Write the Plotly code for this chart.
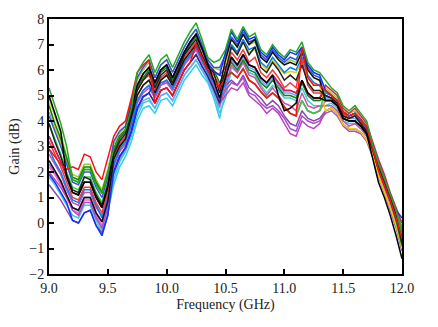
import plotly.graph_objects as go

freq = [round(9.0 + 0.05 * i, 2) for i in range(61)]

green = [5.3, 4.6, 3.9, 3.0,
         1.7, 1.6, 2.1, 2.1, 1.5, 1.15, 1.95, 2.9, 3.4, 3.65, 4.5,
         5.9, 6.3, 6.6, 5.9, 6.4, 6.6, 6.1, 6.6, 7.1, 7.5, 7.85, 7.2, 6.5, 6.3, 6.4, 6.8,
         7.6, 7.2, 7.7, 7.3, 7.45, 6.8, 6.6, 7.0, 6.7, 6.5, 6.8, 6.7, 7.1, 6.3, 6.0, 5.9,
         5.6, 5.3, 5.1, 4.6, 4.4, 4.6, 4.3, 4.0,
         3.1, 2.35, 1.75, 1.1, 0.5, -0.4]

red = [2.9, 2.6, 2.3, 2.1,
       2.2, 2.1, 2.7, 2.6, 2.0, 1.7, 2.5, 3.4, 3.8, 4.0, 4.9,
       5.9, 6.2, 6.4,
       4.7, 5.2, 5.3, 5.0, 5.5, 6.0, 6.3, 7.0, 6.5, 6.0, 5.6, 5.3, 5.7,
       5.9, 5.7, 6.05, 5.6, 5.45, 5.15, 4.9, 5.1, 4.9, 4.55, 4.3, 4.2,
       6.9, 5.7, 5.4, 5.4, 5.2, 5.0, 4.8, 4.35, 4.2, 4.3, 4.05, 3.75,
       2.9, 2.1, 1.5, 0.9, 0.2, -0.6]

black1 = [5.0, 4.3, 3.6,
          1.8, 1.2, 1.1, 1.6, 1.6, 1.0, 0.6, 1.4,
          2.9, 3.4, 3.65, 4.5, 5.4, 5.85, 6.1, 5.5, 6.0, 6.2, 5.7, 6.2, 6.7, 7.1, 7.4, 6.85, 6.25, 5.6, 4.9, 5.7,
          6.5, 6.2, 6.6, 6.2, 6.1, 5.7, 5.5, 5.8, 5.0, 4.4, 4.5, 4.7,
          5.6, 5.1, 4.9, 4.9, 4.8, 4.8, 4.6, 4.1, 4.0, 4.0, 3.8, 3.5,
          2.5, 1.6, 1.0, 0.3, -0.5, -1.4]

black2 = [2.45, 2.05, 1.65, 1.1, 0.6, 0.5, 1.0, 1.0, 0.4, 0.05, 0.85,
          2.5, 3.0, 3.3, 4.1, 5.0, 5.4, 5.6, 5.1, 5.6, 5.8, 5.4, 5.9, 6.4, 6.7, 7.0, 6.5, 6.0, 5.6, 5.3, 6.4,
          7.2, 6.9, 7.4, 7.0, 7.2, 6.5, 6.3, 6.7, 6.4, 6.2, 6.3, 6.2, 6.7, 6.0, 5.7, 5.6,
          4.8, 4.8, 4.6, 4.1, 4.0, 4.0, 3.8, 3.5, 2.9, 2.1, 1.5, 0.9, 0.2, -0.6]

black3 = [3.9, 3.2, 2.6, 1.9, 1.3, 1.2, 1.8, 1.7, 1.1, 0.7, 1.5,
          2.7, 3.2, 3.5, 4.3, 5.2, 5.6, 5.9, 5.3, 5.8, 6.0, 5.5, 6.0, 6.6, 6.9, 7.2, 6.6, 6.1, 5.9, 5.1, 6.0,
          6.9, 6.6, 7.1, 6.6, 6.9, 6.1, 5.9, 6.3, 6.0, 5.6, 5.8, 5.6, 6.2, 5.5, 5.2, 5.2,
          5.0, 4.9, 4.7, 4.2, 4.1, 4.2, 3.9, 3.6, 3.0, 2.2, 1.6, 1.0, 0.3, -0.8]

blue = [1.9, 1.6, 1.2, 0.8,
        0.1, 0.0, 0.4, 0.5, -0.1, -0.5, 0.3,
        2.0, 2.6, 2.95, 3.6, 4.5, 4.95, 5.1,
        5.5, 6.0, 6.2, 5.7, 6.2, 6.7, 7.1, 7.4, 6.85, 6.25, 5.95, 5.8, 6.7,
        7.5, 7.1, 7.6, 7.2, 7.3, 6.7, 6.5, 6.9, 6.6, 6.4, 6.7, 6.6, 6.9, 6.2, 5.9, 5.8,
        5.2, 5.0, 4.8, 4.35, 4.2, 4.3, 4.05, 3.75, 3.1, 2.35, 1.75, 1.1, 0.5, 0.2]

magenta = [2.0, 1.7, 1.4, 1.0,
           0.6, 0.5, 1.0, 1.0, 0.4, 0.05, 0.85,
           2.0, 2.6, 2.95, 3.6, 4.5, 4.95, 5.1, 4.7, 5.2, 5.3, 5.0, 5.5, 6.0, 6.3, 6.6, 6.15, 5.75, 5.25, 4.7, 5.0,
           5.3, 5.2, 5.5, 5.0, 4.8, 4.6, 4.3, 4.5, 4.3, 3.9, 3.5, 3.4, 4.0, 3.8, 3.7, 3.9,
           4.4, 4.5, 4.3, 3.85, 3.7, 3.7, 3.55, 3.25, 2.7, 1.85, 1.25, 0.6, -0.1, -1.0]

magenta2 = [2.7, 2.3, 1.9, 1.3, 0.8, 0.7, 1.2, 1.2, 0.6, 0.3, 1.0,
            2.2, 2.8, 3.1, 3.8, 4.7, 5.1, 5.3, 4.9, 5.4, 5.5, 5.2, 5.7, 6.2, 6.5, 6.8, 6.3, 5.9, 5.4, 4.6, 5.3,
            6.2, 5.9, 6.3, 5.8, 5.7, 5.3, 5.0, 5.3, 5.0, 4.7, 4.6, 4.4, 5.1, 4.6, 4.5, 4.6,
            4.6, 4.6, 4.4, 4.0, 3.8, 3.9, 3.7, 3.4, 2.8, 2.0, 1.4, 0.8, 0.1, -0.7]

cyan = [2.45, 2.05, 1.65, 1.1, 0.6, 0.5, 1.0, 1.0, 0.4, -0.3, 0.5,
        1.5, 2.2, 2.6, 3.2, 4.0, 4.5, 4.6, 4.3, 4.8, 4.9, 4.6, 5.1, 5.6, 5.9, 6.2, 5.8, 5.5, 4.9, 4.1, 5.2,
        5.9, 5.7, 6.05, 5.6, 5.45, 5.15, 4.9, 5.1, 4.9, 4.55, 4.3, 4.2, 4.8, 4.4, 4.3, 4.4,
        4.8, 4.8, 4.6, 4.1, 4.0, 4.0, 3.8, 3.5, 2.9, 2.1, 1.5, 0.9, 0.2, -0.6]

cyan2 = [1.8, 1.5, 1.1, 0.7, 0.3, 0.2, 0.7, 0.7, 0.1, -0.4, 0.4,
         1.7, 2.4, 2.8, 3.4, 4.2, 4.7, 4.8, 4.5, 5.0, 5.1, 4.8, 5.3, 5.8, 6.1, 6.4, 6.0, 5.6, 5.1, 4.3, 4.9,
         6.1, 5.9, 6.3, 5.9, 5.8, 5.4, 5.1, 5.4, 5.2, 4.9, 4.9, 4.8, 5.3, 4.8, 4.6, 4.6,
         4.6, 4.7, 4.5, 4.0, 3.9, 3.9, 3.7, 3.4, 2.8, 2.0, 1.4, 0.8, 0.0, -0.9]

yellow = [4.7, 3.75, 3.15, 2.4, 1.7, 1.6, 2.1, 2.1, 1.5, 1.15, 1.95,
          2.5, 3.0, 3.3, 4.1, 5.0, 5.4, 5.6, 5.1, 5.6, 5.8, 5.4, 5.9, 6.4, 6.7, 7.0, 6.5, 6.0, 5.6, 5.3, 6.3,
          7.0, 6.7, 7.15, 6.7, 6.8, 6.25, 6.0, 6.4, 6.1, 5.85, 5.95, 5.9, 6.3, 5.7, 5.4, 5.4,
          4.4, 4.5, 4.3, 3.85, 3.7, 3.7, 3.55, 3.25, 2.7, 1.85, 1.25, 0.6, -0.1, -1.0]

yellowgreen = [4.9, 4.2, 3.5, 2.6, 1.9, 1.8, 2.3, 2.3, 1.7, 1.3, 2.1,
               3.1, 3.5, 3.8, 4.7, 5.6, 6.0, 6.3, 5.7, 6.2, 6.4, 5.9, 6.4, 6.9, 7.3, 7.6, 7.0, 6.4, 6.1, 6.0, 6.4,
               7.3, 6.9, 7.4, 7.0, 7.1, 6.5, 6.3, 6.7, 6.4, 6.2, 6.4, 6.3, 6.8, 6.0, 5.7, 5.6,
               5.3, 5.1, 4.9, 4.4, 4.3, 4.4, 4.1, 3.8, 3.1, 2.3, 1.7, 1.0, 0.3, -0.5]

navy = [3.4, 2.9, 2.4, 1.8, 1.2, 1.1, 1.6, 1.6, 1.0, 0.6, 1.4,
        2.0, 2.6, 2.95, 3.6, 4.5, 4.95, 5.1, 4.7, 5.2, 5.3, 5.0, 5.5, 6.0, 6.3, 6.6, 6.15, 5.75, 5.25, 4.7, 5.8,
        6.5, 6.2, 6.6, 6.2, 6.1, 5.7, 5.5, 5.8, 5.5, 5.2, 5.2, 5.1, 5.6, 5.1, 4.9, 4.9,
        5.2, 5.0, 4.8, 4.35, 4.2, 4.3, 4.05, 3.75, 3.1, 2.35, 1.75, 1.1, 0.5, -0.2]

pink = [2.2, 1.9, 1.5, 1.0, 0.5, 0.4, 0.9, 0.9, 0.3, -0.1, 0.7,
        2.9, 3.4, 3.65, 4.5, 5.4, 5.85, 6.1, 5.5, 6.0, 6.2, 5.7, 6.2, 6.7, 7.1, 7.4, 6.85, 6.25, 5.95, 5.8, 5.7,
        5.9, 5.7, 6.05, 5.6, 5.45, 5.15, 4.9, 5.1, 4.9, 4.55, 4.3, 4.2, 4.8, 4.4, 4.3, 4.4,
        4.8, 4.8, 4.6, 4.1, 4.0, 4.0, 3.8, 3.5, 2.9, 2.1, 1.5, 0.9, 0.2, -0.6]

lightblue = [4.35, 3.75, 3.15, 2.4, 1.7, 1.6, 2.1, 2.1, 1.5, 1.15, 1.95,
             1.9, 2.5, 2.85, 3.5, 4.4, 4.8, 4.9, 4.5, 5.0, 5.1, 4.8, 5.3, 5.8, 6.1, 6.4, 6.0, 5.6, 5.1, 4.5, 5.6,
             6.4, 6.1, 6.5, 6.1, 6.0, 5.6, 5.4, 5.7, 5.4, 5.1, 5.1, 5.0, 5.5, 5.0, 4.8, 4.8,
             4.9, 4.9, 4.7, 4.2, 4.1, 4.1, 3.9, 3.6, 3.0, 2.2, 1.6, 1.0, 0.3, -0.5]

violet = [1.5, 1.2, 0.9, 0.5, 0.1, 0.0, 0.4, 0.5, -0.1, -0.4, 0.3,
          2.5, 3.0, 3.3, 4.1, 5.0, 5.4, 5.6, 5.1, 5.6, 5.8, 5.4, 5.9, 6.4, 6.7, 7.0, 6.5, 6.0, 5.6, 5.3, 5.4,
          5.6, 5.4, 5.8, 5.3, 5.1, 4.9, 4.6, 4.8, 4.6, 4.2, 3.9, 3.8, 4.4, 4.1, 4.0, 4.1,
          4.4, 4.5, 4.3, 3.85, 3.7, 3.7, 3.55, 3.25, 2.7, 1.85, 1.25, 0.6, -0.1, -1.0]

purple2 = [2.3, 2.0, 1.6, 1.1, 0.5, 0.3, 0.8, 0.8, 0.2, -0.2, 0.6,
           2.3, 2.8, 3.1, 3.9, 4.8, 5.2, 5.4, 4.9, 5.4, 5.6, 5.2, 5.7, 6.2, 6.5, 6.8, 6.4, 5.9, 5.4, 4.8, 5.2,
           5.5, 5.4, 5.7, 5.1, 5.0, 4.7, 4.5, 4.6, 4.4, 4.1, 3.7, 3.6, 4.2, 4.0, 3.9, 4.0,
           4.3, 4.4, 4.2, 3.8, 3.6, 3.6, 3.5, 3.2, 2.6, 1.8, 1.2, 0.5, -0.2, -1.1]

green2 = [3.9, 3.3, 2.7, 2.0, 1.4, 1.3, 1.8, 1.8, 1.2, 0.8, 1.6,
          2.9, 3.4, 3.65, 4.5, 5.4, 5.85, 6.1, 5.5, 6.0, 6.2, 5.7, 6.2, 6.7, 7.1, 7.4, 6.85, 6.25, 5.95, 5.8, 5.7,
          5.9, 5.7, 6.05, 5.6, 5.45, 5.15, 4.9, 5.1, 4.9, 4.55, 4.3, 4.2, 4.8, 4.4, 4.3, 4.4,
          5.2, 5.0, 4.8, 4.35, 4.2, 4.3, 4.05, 3.75, 3.1, 2.35, 1.75, 1.1, 0.5, -0.2]

darkgreen = [4.6, 3.9, 3.3, 2.5, 1.8, 1.7, 2.2, 2.2, 1.6, 1.2, 2.0,
             2.8, 3.3, 3.6, 4.4, 5.3, 5.7, 6.0, 5.4, 5.9, 6.1, 5.6, 6.1, 6.6, 7.0, 7.3, 6.8, 6.2, 6.0, 5.5, 5.9,
             6.3, 6.0, 6.4, 6.0, 5.9, 5.5, 5.3, 5.6, 5.3, 5.0, 5.0, 4.9, 5.5, 5.0, 4.8, 4.8,
             5.0, 4.9, 4.7, 4.2, 4.1, 4.2, 3.9, 3.6, 3.0, 2.2, 1.6, 0.9, 0.1, -0.9]

crimson = [3.4, 2.9, 2.4, 1.8, 1.2, 1.1, 1.6, 1.6, 1.0, 0.6, 1.4,
           2.9, 3.4, 3.65, 4.5, 5.4, 5.85, 6.1, 5.5, 6.0, 6.2, 5.7, 6.2, 6.7, 7.1, 7.4, 6.85, 6.25, 5.95, 5.8, 6.1,
           6.5, 6.2, 6.6, 6.2, 6.1, 5.7, 5.5, 5.8, 5.5, 5.2, 5.2, 5.1, 5.6, 5.1, 4.9, 4.9,
           5.4, 5.2, 5.0, 4.5, 4.3, 4.5, 4.2, 3.9, 3.2, 2.5, 1.9, 1.2, 0.6, 0.0]

red2 = [3.2, 2.7, 2.2, 1.6, 1.0, 0.9, 1.4, 1.4, 0.8, 0.4, 1.2,
        2.6, 3.1, 3.4, 4.3, 5.2, 5.6, 5.8, 5.2, 5.7, 5.9, 5.5, 6.0, 6.5, 6.8, 7.1, 6.6, 6.1, 5.8, 5.4, 5.8,
        6.7, 6.4, 6.8, 6.3, 6.5, 5.9, 5.7, 6.0, 5.7, 5.3, 5.5, 5.3, 6.4, 5.4, 5.1, 5.1,
        5.0, 4.9, 4.7, 4.3, 4.1, 4.2, 3.9, 3.6, 3.0, 2.2, 1.6, 1.0, 0.4, -0.3]

royal = [4.2, 3.6, 3.0, 2.3, 1.6, 1.5, 2.0, 2.0, 1.4, 1.0, 1.8,
         3.2, 3.6, 3.8, 4.7, 5.7, 6.1, 6.4, 5.7, 6.2, 6.4, 5.9, 6.4, 6.9, 7.3, 7.6, 7.0, 6.4, 6.1, 6.1, 6.6,
         7.3, 7.0, 7.5, 7.1, 7.2, 6.6, 6.4, 6.8, 6.5, 6.3, 6.5, 6.4, 6.9, 6.1, 5.8, 5.7,
         4.8, 4.8, 4.6, 4.1, 4.0, 4.0, 3.8, 3.5, 2.9, 2.1, 1.5, 0.9, 0.2, -0.6]

azure = [2.9, 2.4, 2.0, 1.4, 0.9, 0.8, 1.3, 1.3, 0.7, 0.2, 1.0,
         2.3, 2.9, 3.2, 3.9, 4.8, 5.2, 5.4, 5.0, 5.5, 5.6, 5.3, 5.8, 6.3, 6.6, 6.9, 6.4, 5.9, 5.5, 4.9, 5.5,
         7.0, 6.7, 7.2, 6.8, 6.9, 6.3, 6.1, 6.5, 6.2, 5.9, 6.1, 6.0, 6.5, 5.8, 5.5, 5.4,
         5.1, 5.0, 4.8, 4.3, 4.2, 4.3, 4.0, 3.7, 3.1, 2.3, 1.7, 1.1, 0.4, 0.0]

series = [
    (cyan, "#33ccee"), (cyan2, "#40c8d8"), (lightblue, "#66aaff"), (pink, "#ff66b2"),
    (violet, "#8e44ad"), (purple2, "#a050d0"), (magenta, "#c040c0"), (magenta2, "#d04fa0"),
    (yellow, "#e6d200"), (yellowgreen, "#9acd32"), (navy, "#1f2a80"), (azure, "#0080ff"),
    (green2, "#2ecc40"), (darkgreen, "#108010"), (royal, "#3355dd"), (crimson, "#e0204a"),
    (red2, "#f03c3c"), (blue, "#1030ff"), (black3, "#202020"), (black2, "#111111"),
    (red, "#ff1010"), (black1, "#000000"), (green, "#22aa22"),
]

fig = go.Figure()
for ys, col in series:
    fig.add_trace(go.Scatter(x=freq, y=ys, mode="lines",
                             line=dict(color=col, width=1.5), showlegend=False))

axis_common = dict(showline=True, linecolor="black", linewidth=2, mirror=True,
                   ticks="inside", ticklen=5, tickcolor="black", tickwidth=1.5,
                   showgrid=False, zeroline=False,
                   tickfont=dict(family="Liberation Serif", size=14, color="#222"))

fig.update_layout(
    width=438, height=327,
    margin=dict(l=49, r=36, t=16, b=53),
    paper_bgcolor="white", plot_bgcolor="white",
    font=dict(family="Liberation Serif", size=14, color="#222"),
    xaxis=dict(range=[9, 12], tickvals=[9.0, 9.5, 10.0, 10.5, 11.0, 11.5, 12.0],
               ticktext=["9.0", "9.5", "10.0", "10.5", "11.0", "11.5", "12.0"],
               title=dict(text="Frequency (GHz)", standoff=4,
                          font=dict(family="Liberation Serif", size=14)),
               **axis_common),
    yaxis=dict(range=[-2, 8], tickvals=list(range(-2, 9)),
               title=dict(text="Gain (dB)", standoff=6,
                          font=dict(family="Liberation Serif", size=14)),
               **axis_common),
)

fig.write_html("out.html")
